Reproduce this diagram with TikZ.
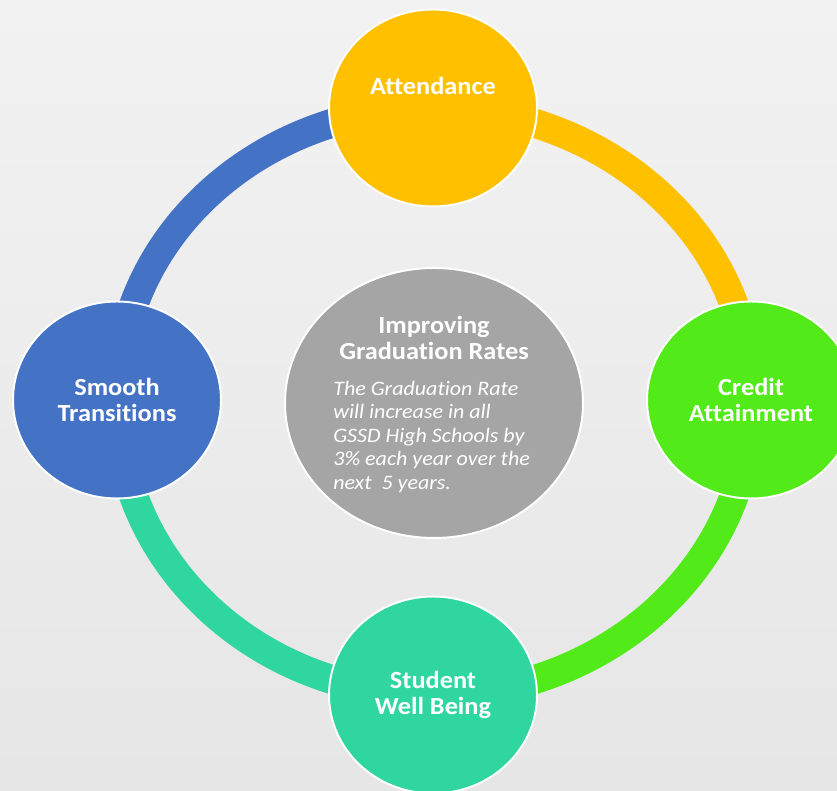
\documentclass[tikz,border=0pt]{standalone}
\usepackage{fontspec}
\setmainfont{Carlito}[FakeStretch=1.07, Ligatures=NoCommon]
\usetikzlibrary{shapes.geometric,backgrounds}
\definecolor{paper}{HTML}{F2F2F2}
\definecolor{paperlow}{HTML}{E6E6E6}
\definecolor{cobalt}{HTML}{4472C4}
\definecolor{gold}{HTML}{FFC000}
\definecolor{lime}{HTML}{53EA1A}
\definecolor{jade}{HTML}{30D6A0}
\definecolor{slate}{HTML}{A5A5A5}

\begin{document}
\begin{tikzpicture}[
    x=0.02cm, y=0.02cm,
    bubble/.style={ellipse, draw=white, line width=1.1pt, inner sep=0pt,
      minimum width=4.16cm, minimum height=3.94cm},
    hub/.style={ellipse, draw=white, line width=1.1pt, fill=slate, inner sep=0pt,
      minimum width=5.96cm, minimum height=5.40cm},
    band/.style={line width=0.58cm},
    lab/.style={font=\fontsize{14}{15.3}\selectfont\bfseries, text=white, align=center},
    goal title/.style={font=\fontsize{14}{14.9}\selectfont\bfseries, text=white, align=center},
    goal text/.style={font=\fontsize{11.7}{13.3}\selectfont\itshape, text=white, align=left,
      inner sep=0pt, anchor=north west}]
  % canvas 837 x 790 units
  \path[use as bounding box] (0,0) rectangle (837,790);

  % ================= the four stages round the ring =================
  \node[bubble, fill=gold]   (attend)    at (433,682) {};
  \node[bubble, fill=cobalt] (smooth)    at (117,390) {};
  \node[bubble, fill=lime]   (credit)    at (751,390) {};
  \node[bubble, fill=jade]   (wellbeing) at (433,95)  {};

  \node[lab] at (433,704) {Attendance};
  \node[lab] at (smooth)    {Smooth\\Transitions};
  \node[lab] at (credit)    {Credit\\Attainment};
  \node[lab] at (wellbeing) {Student\\Well Being};

  % ================= goal in the middle =================
  \node[hub] (goal) at (434,387) {};
  \node[goal title] (goalhead) at (434,452) {Improving\\Graduation Rates};
  \node[goal text] (goalbody) at (333,409) {The Graduation Rate\\will increase in all\\GSSD High Schools by\\3\% each year over the\\next\ \ 5 years.};

  % ================= ring segments, behind the stages =================
  \begin{pgfonlayer}{background}
    \shade[top color=paper, bottom color=paperlow] (0,0) rectangle (837,790);
    \draw[band, cobalt] (smooth.center)    to[out=90,  in=180] (attend.center);
    \draw[band, gold]   (attend.center)    to[out=0,   in=90]  (credit.center);
    \draw[band, lime]   (credit.center)    to[out=-90, in=0]   (wellbeing.center);
    \draw[band, jade]   (wellbeing.center) to[out=180, in=-90] (smooth.center);
  \end{pgfonlayer}
\end{tikzpicture}
\end{document}
